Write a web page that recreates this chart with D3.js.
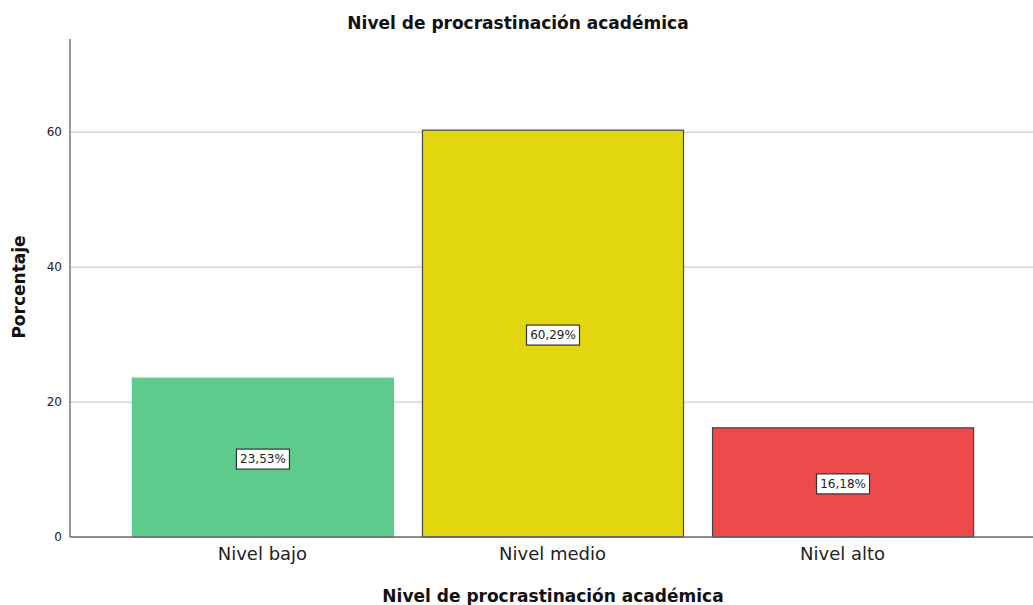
<!DOCTYPE html>
<html><head><meta charset="utf-8">
<script src="https://cdn.jsdelivr.net/npm/d3@7"></script>
<style>body{margin:0;background:#fff;} svg{display:block;}</style>
</head><body>
<svg id="c" width="1033" height="605"></svg>
<script>
const categories = ["Nivel bajo", "Nivel medio", "Nivel alto"];
const values = [23.53, 60.29, 16.18];
const labels = ["23,53%", "60,29%", "16,18%"];
const colors = ["#5ECA8B", "#E2D60E", "#EC4A4B"];
const strokes = ["#5ECA8B", "#444", "#444"];
const yTicks = [0, 20, 40, 60];

const svg = d3.select("#c");
const font = "DejaVu Sans, sans-serif";
const x0 = 70, x1 = 1033, yTop = 39, yBot = 537;
const y = d3.scaleLinear().domain([0, 73.8]).range([yBot, yTop]);
const x = d3.scaleBand().domain(categories).range([x0 + 1, x1 + 1]).paddingInner(0.1).paddingOuter(0.21);

// gridlines
svg.append("g").selectAll("line").data(yTicks.filter(d => d > 0)).join("line")
  .attr("x1", x0).attr("x2", x1).attr("y1", d => y(d)).attr("y2", d => y(d))
  .attr("stroke", "#cfcfcf").attr("stroke-width", 1.2);

// bars
svg.append("g").selectAll("rect").data(values).join("rect")
  .attr("x", (d, i) => x(categories[i]) + 0.5)
  .attr("width", x.bandwidth())
  .attr("y", d => y(d))
  .attr("height", d => yBot - y(d))
  .attr("fill", (d, i) => colors[i])
  .attr("stroke", (d, i) => strokes[i]).attr("stroke-width", 1.2);

// y axis
const yAxis = d3.axisLeft(y).tickValues(yTicks).tickSize(0).tickPadding(8);
const gy = svg.append("g").attr("transform", `translate(${x0},0)`).call(yAxis);
gy.select(".domain").attr("stroke", "#555").attr("stroke-width", 1.2).attr("d", `M0,${yTop}V${yBot}`);
gy.selectAll("text").attr("font-family", font).attr("font-size", 12).attr("fill", "#222");

// x axis
const xAxis = d3.axisBottom(x).tickSize(0).tickPadding(10);
const gx = svg.append("g").attr("transform", `translate(0,${yBot})`).call(xAxis);
gx.select(".domain").attr("stroke", "#666").attr("stroke-width", 1.5).attr("d", `M${x0},0H${x1}`);
gx.selectAll("text").attr("font-family", font).attr("font-size", 18).attr("fill", "#222");

// value labels
const lg = svg.append("g").selectAll("g").data(values).join("g")
  .attr("transform", (d, i) => `translate(${x(categories[i]) + x.bandwidth() / 2 + 0.5},${y(d / 2) + 1.5})`);
lg.append("rect").attr("x", -26.5).attr("y", -10).attr("width", 53).attr("height", 20)
  .attr("fill", "#fff").attr("stroke", "#333").attr("stroke-width", 1.2);
lg.append("text").text((d, i) => labels[i]).attr("text-anchor", "middle").attr("dy", "0.35em")
  .attr("font-family", font).attr("font-size", 12).attr("fill", "#222");

// titles
svg.append("text").text("Nivel de procrastinación académica").attr("x", 518).attr("y", 29)
  .attr("text-anchor", "middle").attr("font-family", font).attr("font-weight", "bold").attr("font-size", 17).attr("fill", "#111");
svg.append("text").text("Nivel de procrastinación académica").attr("x", 553).attr("y", 602)
  .attr("text-anchor", "middle").attr("font-family", font).attr("font-weight", "bold").attr("font-size", 17).attr("fill", "#111");
svg.append("text").text("Porcentaje").attr("transform", "translate(25,287) rotate(-90)")
  .attr("text-anchor", "middle").attr("font-family", font).attr("font-weight", "bold").attr("font-size", 17).attr("fill", "#111");
</script>
</body></html>
